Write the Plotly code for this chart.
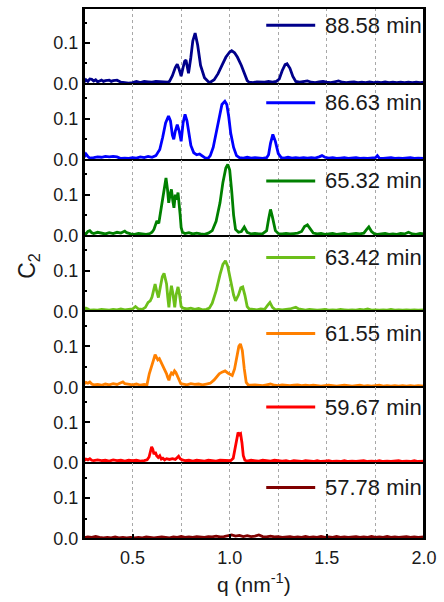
import plotly.graph_objects as go
from plotly.subplots import make_subplots

# Legend labels (acquisition time) and line colours, top panel first
labels = ["88.58 min", "86.63 min", "65.32 min", "63.42 min",
          "61.55 min", "59.67 min", "57.78 min"]
colors = ["#00008B", "#0000FF", "#008000", "#6CBF1A",
          "#FF8000", "#FF0000", "#800000"]

# C2(q) curves as (q [nm^-1], C2) pairs
c2_8858 = [(0.25,0.004),(0.26,0.010),(0.27,0.006),(0.28,0.012),(0.29,0.011),(0.30,0.007),(0.31,0.010),(0.32,0.005),
           (0.33,0.007),(0.34,0.009),(0.35,0.006),(0.36,0.008),(0.38,0.009),(0.39,0.006),(0.40,0.008),(0.42,0.009),
           (0.44,0.004),(0.46,0.003),(0.48,0.002),(0.50,0.003),(0.52,0.006),(0.54,0.003),(0.56,0.006),(0.58,0.005),
           (0.60,0.004),(0.62,0.006),(0.64,0.005),(0.66,0.004),(0.68,0.004),(0.69,0.006),(0.705,0.020),(0.72,0.040),
           (0.73,0.048),(0.74,0.035),(0.75,0.019),(0.76,0.040),(0.768,0.055),(0.775,0.058),(0.782,0.035),(0.788,0.026),
           (0.80,0.065),(0.81,0.105),(0.822,0.124),(0.835,0.095),(0.85,0.045),(0.87,0.015),(0.89,0.005),(0.90,0.004),
           (0.92,0.010),(0.94,0.025),(0.96,0.045),(0.98,0.065),(1.00,0.078),(1.01,0.081),(1.025,0.076),(1.04,0.065),
           (1.06,0.045),(1.075,0.025),(1.09,0.008),(1.10,0.004),(1.12,0.003),(1.14,0.005),(1.16,0.004),(1.18,0.004),
           (1.20,0.006),(1.22,0.004),(1.24,0.006),(1.255,0.012),(1.27,0.032),(1.285,0.047),(1.295,0.049),(1.31,0.038),
           (1.325,0.018),(1.34,0.006),(1.36,0.004),(1.38,0.005),(1.40,0.007),(1.42,0.004),(1.44,0.003),(1.46,0.005),
           (1.48,0.006),(1.50,0.004),(1.52,0.003),(1.54,0.005),(1.56,0.007),(1.58,0.004),(1.60,0.003),(1.62,0.004),
           (1.64,0.005),(1.66,0.003),(1.68,0.004),(1.70,0.003),(1.72,0.005),(1.74,0.003),(1.76,0.004),(1.78,0.003),
           (1.80,0.005),(1.82,0.003),(1.84,0.004),(1.86,0.003),(1.88,0.004),(1.90,0.003),(1.92,0.004),(1.94,0.003),
           (1.96,0.004),(1.98,0.003),(2.00,0.004)]

c2_8663 = [(0.25,0.006),(0.26,0.014),(0.27,0.008),(0.28,0.004),(0.30,0.005),(0.32,0.007),(0.34,0.006),(0.36,0.008),
           (0.38,0.007),(0.40,0.008),(0.42,0.007),(0.44,0.003),(0.46,0.004),(0.48,0.003),(0.50,0.005),(0.52,0.004),
           (0.54,0.007),(0.56,0.005),(0.58,0.008),(0.60,0.006),(0.62,0.010),(0.64,0.025),(0.655,0.055),(0.67,0.090),
           (0.685,0.107),(0.695,0.095),(0.705,0.060),(0.712,0.050),(0.72,0.070),(0.73,0.086),(0.74,0.070),(0.75,0.045),
           (0.76,0.090),(0.77,0.111),(0.78,0.095),(0.79,0.060),(0.80,0.035),(0.815,0.017),(0.83,0.012),(0.845,0.014),
           (0.86,0.008),(0.875,0.004),(0.89,0.004),(0.90,0.010),(0.915,0.030),(0.93,0.065),(0.945,0.105),(0.96,0.135),
           (0.975,0.143),(0.985,0.135),(0.995,0.105),(1.005,0.065),(1.02,0.030),(1.035,0.010),(1.05,0.005),(1.07,0.004),
           (1.09,0.006),(1.11,0.004),(1.13,0.005),(1.15,0.004),(1.17,0.003),(1.19,0.005),(1.20,0.012),(1.21,0.040),
           (1.222,0.062),(1.235,0.045),(1.25,0.015),(1.265,0.005),(1.28,0.004),(1.30,0.006),(1.32,0.004),(1.34,0.005),
           (1.36,0.004),(1.38,0.005),(1.40,0.004),(1.42,0.005),(1.44,0.004),(1.46,0.007),(1.475,0.010),(1.49,0.006),
           (1.51,0.004),(1.53,0.005),(1.55,0.003),(1.57,0.004),(1.59,0.005),(1.61,0.003),(1.63,0.004),(1.65,0.005),
           (1.67,0.003),(1.69,0.004),(1.71,0.003),(1.73,0.004),(1.75,0.005),(1.76,0.010),(1.77,0.004),(1.79,0.003),
           (1.81,0.004),(1.83,0.005),(1.85,0.003),(1.87,0.004),(1.89,0.003),(1.91,0.004),(1.93,0.005),(1.95,0.003),
           (1.97,0.004),(2.00,0.003)]

c2_6532 = [(0.25,0.006),(0.26,0.004),(0.27,0.010),(0.28,0.012),(0.29,0.007),(0.30,0.005),(0.32,0.008),(0.34,0.006),
           (0.36,0.004),(0.38,0.007),(0.40,0.005),(0.42,0.008),(0.44,0.006),(0.46,0.011),(0.47,0.007),(0.49,0.004),
           (0.51,0.003),(0.53,0.005),(0.55,0.004),(0.57,0.003),(0.59,0.005),(0.60,0.008),(0.61,0.015),(0.62,0.030),
           (0.625,0.036),(0.635,0.030),(0.645,0.060),(0.655,0.090),(0.665,0.125),(0.672,0.141),(0.68,0.112),(0.686,0.080),
           (0.693,0.100),(0.70,0.113),(0.707,0.085),(0.713,0.068),(0.72,0.100),(0.727,0.088),(0.734,0.105),(0.74,0.080),
           (0.745,0.050),(0.75,0.020),(0.757,0.008),(0.77,0.005),(0.79,0.007),(0.81,0.004),(0.83,0.006),(0.85,0.004),
           (0.87,0.003),(0.89,0.006),(0.91,0.012),(0.93,0.035),(0.95,0.080),(0.965,0.130),(0.98,0.165),(0.99,0.174),
           (1.00,0.160),(1.01,0.110),(1.02,0.050),(1.03,0.015),(1.045,0.008),(1.06,0.010),(1.075,0.021),(1.09,0.008),
           (1.11,0.004),(1.13,0.005),(1.15,0.004),(1.17,0.005),(1.19,0.012),(1.20,0.040),(1.21,0.064),(1.22,0.045),
           (1.235,0.012),(1.25,0.005),(1.27,0.004),(1.29,0.005),(1.31,0.004),(1.33,0.005),(1.35,0.006),(1.37,0.010),
           (1.385,0.022),(1.40,0.026),(1.415,0.015),(1.43,0.006),(1.45,0.004),(1.47,0.005),(1.49,0.003),(1.51,0.004),
           (1.53,0.005),(1.55,0.003),(1.57,0.004),(1.59,0.005),(1.61,0.003),(1.63,0.004),(1.65,0.005),(1.67,0.004),
           (1.69,0.006),(1.705,0.015),(1.716,0.021),(1.73,0.010),(1.745,0.004),(1.76,0.003),(1.78,0.004),(1.80,0.005),
           (1.82,0.003),(1.84,0.004),(1.86,0.003),(1.88,0.005),(1.90,0.004),(1.92,0.008),(1.94,0.004),(1.96,0.003),
           (1.98,0.005),(2.00,0.004)]

c2_6342 = [(0.25,0.004),(0.26,0.008),(0.27,0.006),(0.28,0.003),(0.30,0.004),(0.32,0.003),(0.34,0.005),(0.36,0.004),
           (0.38,0.003),(0.40,0.005),(0.42,0.004),(0.44,0.006),(0.46,0.004),(0.48,0.005),(0.50,0.006),(0.515,0.012),
           (0.53,0.006),(0.55,0.005),(0.566,0.010),(0.58,0.022),(0.591,0.026),(0.60,0.035),(0.608,0.055),(0.616,0.067),
           (0.624,0.050),(0.633,0.034),(0.643,0.060),(0.653,0.085),(0.662,0.093),(0.668,0.080),(0.675,0.067),(0.681,0.035),
           (0.687,0.010),(0.693,0.040),(0.70,0.063),(0.707,0.045),(0.712,0.030),(0.717,0.010),(0.724,0.040),(0.73,0.055),
           (0.734,0.060),(0.742,0.040),(0.75,0.012),(0.76,0.008),(0.78,0.006),(0.80,0.008),(0.82,0.005),(0.84,0.007),
           (0.86,0.004),(0.88,0.005),(0.895,0.008),(0.91,0.020),(0.93,0.050),(0.95,0.090),(0.965,0.115),(0.978,0.124),
           (0.99,0.110),(1.005,0.075),(1.02,0.040),(1.03,0.026),(1.045,0.040),(1.057,0.058),(1.067,0.060),(1.078,0.040),
           (1.09,0.012),(1.10,0.006),(1.12,0.005),(1.14,0.004),(1.16,0.006),(1.18,0.005),(1.195,0.015),(1.207,0.022),
           (1.22,0.010),(1.235,0.004),(1.25,0.005),(1.27,0.004),(1.29,0.005),(1.31,0.006),(1.33,0.009),(1.34,0.010),
           (1.355,0.006),(1.37,0.004),(1.39,0.003),(1.41,0.005),(1.43,0.004),(1.45,0.003),(1.47,0.004),(1.49,0.005),
           (1.51,0.003),(1.53,0.004),(1.55,0.003),(1.57,0.005),(1.59,0.004),(1.61,0.003),(1.63,0.004),(1.65,0.003),
           (1.67,0.005),(1.69,0.004),(1.71,0.006),(1.73,0.003),(1.75,0.004),(1.77,0.003),(1.79,0.004),(1.81,0.003),
           (1.83,0.005),(1.85,0.003),(1.87,0.004),(1.89,0.003),(1.91,0.004),(1.93,0.003),(1.95,0.004),(1.97,0.003),
           (2.00,0.004)]

c2_6155 = [(0.25,0.008),(0.26,0.012),(0.27,0.010),(0.28,0.013),(0.29,0.008),(0.30,0.006),(0.32,0.007),(0.34,0.005),
           (0.36,0.008),(0.38,0.006),(0.40,0.009),(0.42,0.007),(0.44,0.011),(0.45,0.013),(0.46,0.009),(0.48,0.008),
           (0.50,0.006),(0.52,0.008),(0.54,0.005),(0.56,0.007),(0.574,0.006),(0.586,0.033),(0.595,0.045),(0.603,0.058),
           (0.61,0.070),(0.616,0.080),(0.623,0.072),(0.63,0.067),(0.638,0.070),(0.647,0.061),(0.655,0.052),(0.663,0.045),
           (0.67,0.040),(0.675,0.033),(0.68,0.025),(0.687,0.017),(0.693,0.028),(0.70,0.035),(0.708,0.032),(0.716,0.040),
           (0.723,0.036),(0.73,0.029),(0.74,0.018),(0.748,0.009),(0.76,0.008),(0.78,0.006),(0.80,0.009),(0.82,0.007),
           (0.84,0.008),(0.86,0.006),(0.88,0.008),(0.90,0.010),(0.92,0.018),(0.935,0.028),(0.946,0.033),(0.96,0.037),
           (0.976,0.040),(0.99,0.035),(1.005,0.030),(1.013,0.029),(1.025,0.045),(1.037,0.080),(1.047,0.100),(1.055,0.106),
           (1.065,0.090),(1.075,0.045),(1.085,0.012),(1.095,0.006),(1.11,0.005),(1.13,0.006),(1.15,0.005),(1.17,0.004),
           (1.19,0.006),(1.21,0.008),(1.23,0.005),(1.25,0.004),(1.27,0.006),(1.29,0.005),(1.31,0.004),(1.33,0.005),
           (1.35,0.006),(1.37,0.004),(1.39,0.005),(1.41,0.004),(1.43,0.005),(1.45,0.004),(1.47,0.003),(1.49,0.004),
           (1.51,0.005),(1.53,0.004),(1.55,0.003),(1.57,0.004),(1.59,0.005),(1.61,0.004),(1.63,0.003),(1.65,0.004),
           (1.67,0.005),(1.69,0.003),(1.71,0.004),(1.73,0.003),(1.75,0.004),(1.77,0.005),(1.79,0.003),(1.81,0.004),
           (1.83,0.003),(1.85,0.004),(1.87,0.003),(1.89,0.004),(1.91,0.003),(1.93,0.004),(1.95,0.003),(1.97,0.004),
           (2.00,0.003)]

c2_5967 = [(0.25,0.006),(0.26,0.010),(0.27,0.008),(0.28,0.011),(0.29,0.007),(0.30,0.006),(0.32,0.008),(0.34,0.006),
           (0.36,0.007),(0.38,0.005),(0.40,0.008),(0.42,0.006),(0.44,0.007),(0.46,0.005),(0.48,0.007),(0.50,0.006),
           (0.52,0.007),(0.54,0.005),(0.56,0.006),(0.575,0.008),(0.585,0.015),(0.592,0.030),(0.598,0.040),(0.604,0.034),
           (0.61,0.022),(0.617,0.027),(0.624,0.018),(0.632,0.014),(0.64,0.018),(0.648,0.010),(0.656,0.012),(0.665,0.008),
           (0.675,0.011),(0.69,0.009),(0.705,0.011),(0.72,0.009),(0.73,0.013),(0.737,0.017),(0.745,0.011),(0.755,0.008),
           (0.77,0.006),(0.79,0.007),(0.81,0.005),(0.83,0.007),(0.85,0.006),(0.87,0.005),(0.89,0.007),(0.91,0.006),
           (0.93,0.005),(0.95,0.007),(0.97,0.006),(0.99,0.005),(1.005,0.006),(1.018,0.012),(1.028,0.040),(1.037,0.068),
           (1.043,0.075),(1.05,0.070),(1.056,0.072),(1.063,0.050),(1.07,0.018),(1.078,0.007),(1.09,0.005),(1.11,0.007),
           (1.13,0.006),(1.15,0.005),(1.17,0.007),(1.19,0.006),(1.21,0.005),(1.23,0.007),(1.25,0.006),(1.27,0.005),
           (1.29,0.006),(1.31,0.004),(1.33,0.006),(1.35,0.005),(1.37,0.004),(1.39,0.006),(1.41,0.005),(1.43,0.004),
           (1.45,0.006),(1.47,0.004),(1.49,0.005),(1.51,0.006),(1.53,0.004),(1.55,0.005),(1.57,0.004),(1.59,0.006),
           (1.61,0.004),(1.63,0.005),(1.65,0.004),(1.67,0.005),(1.69,0.006),(1.71,0.004),(1.73,0.005),(1.75,0.004),
           (1.77,0.006),(1.79,0.004),(1.81,0.005),(1.83,0.004),(1.85,0.005),(1.87,0.006),(1.89,0.004),(1.91,0.005),
           (1.93,0.004),(1.95,0.006),(1.97,0.004),(2.00,0.005)]

c2_5778 = [(0.25,0.003),(0.27,0.005),(0.29,0.004),(0.31,0.006),(0.33,0.004),(0.35,0.003),(0.37,0.004),(0.39,0.003),
           (0.41,0.005),(0.43,0.003),(0.45,0.004),(0.47,0.003),(0.49,0.004),(0.51,0.003),(0.53,0.004),(0.55,0.003),
           (0.57,0.005),(0.59,0.004),(0.61,0.003),(0.63,0.004),(0.65,0.005),(0.67,0.004),(0.69,0.003),(0.71,0.005),
           (0.73,0.004),(0.75,0.006),(0.77,0.004),(0.79,0.005),(0.81,0.004),(0.83,0.006),(0.85,0.005),(0.87,0.004),
           (0.89,0.006),(0.91,0.005),(0.93,0.007),(0.95,0.005),(0.97,0.006),(0.99,0.008),(1.01,0.010),(1.03,0.007),
           (1.05,0.009),(1.07,0.006),(1.09,0.008),(1.11,0.006),(1.13,0.007),(1.15,0.010),(1.17,0.006),(1.19,0.005),
           (1.21,0.007),(1.23,0.005),(1.25,0.006),(1.27,0.004),(1.29,0.005),(1.31,0.006),(1.33,0.004),(1.35,0.005),
           (1.37,0.004),(1.39,0.006),(1.41,0.004),(1.43,0.005),(1.45,0.004),(1.47,0.006),(1.49,0.004),(1.51,0.005),
           (1.53,0.004),(1.55,0.006),(1.57,0.004),(1.59,0.005),(1.61,0.004),(1.63,0.005),(1.65,0.006),(1.67,0.004),
           (1.69,0.005),(1.71,0.004),(1.73,0.006),(1.75,0.004),(1.77,0.005),(1.79,0.004),(1.81,0.006),(1.83,0.004),
           (1.85,0.005),(1.87,0.004),(1.89,0.005),(1.91,0.006),(1.93,0.004),(1.95,0.005),(1.97,0.004),(2.00,0.005)]

curves = [c2_8858, c2_8663, c2_6532, c2_6342, c2_6155, c2_5967, c2_5778]

# vertical placement of each panel's legend entry (fraction of panel height)
legend_y = [0.772, 0.75, 0.72, 0.71, 0.71, 0.74, 0.68]

FONT = "Liberation Sans, Arial, sans-serif"
TXT = "#1a1a1a"
n = len(curves)

fig = make_subplots(rows=n, cols=1, shared_xaxes=True, vertical_spacing=0)

for i, (pts, name, col) in enumerate(zip(curves, labels, colors)):
    q, c2 = zip(*pts)
    fig.add_trace(go.Scatter(x=list(q), y=list(c2), mode="lines", name=name,
                             line=dict(color=col, width=2.8), showlegend=False),
                  row=i + 1, col=1)
    ax = "" if i == 0 else str(i + 1)
    # legend line sample and label inside the panel
    fig.add_shape(type="line", xref=f"x{ax} domain", yref=f"y{ax} domain",
                  x0=0.536, x1=0.680, y0=legend_y[i], y1=legend_y[i],
                  line=dict(color=col, width=3))
    fig.add_annotation(xref=f"x{ax} domain", yref=f"y{ax} domain",
                       x=0.703, y=legend_y[i], text=name, showarrow=False,
                       xanchor="left", yanchor="middle",
                       font=dict(family=FONT, size=22, color=TXT))

fig.update_yaxes(range=[0, 0.1855], tick0=0, dtick=0.1, tickformat=".1f",
                 ticks="inside", ticklen=6, tickwidth=1.5, tickcolor="black",
                 minor=dict(tick0=0, dtick=0.05, ticks="inside", ticklen=3,
                            tickwidth=1.5, tickcolor="black"),
                 showgrid=False, zeroline=False,
                 showline=True, linecolor="black", linewidth=2, mirror=True,
                 ticklabelstandoff=0,
                 tickfont=dict(family=FONT, size=18, color=TXT))

fig.update_xaxes(range=[0.25, 2.0], tick0=0, dtick=0.5, tickformat=".1f",
                 showgrid=True, gridcolor="#a8a8a8", gridwidth=1, griddash="dot",
                 minor=dict(tick0=0, dtick=0.25, showgrid=True, gridcolor="#a8a8a8",
                            gridwidth=1, griddash="dot"),
                 zeroline=False, ticks="",
                 showline=True, linecolor="black", linewidth=1, mirror=True,
                 tickfont=dict(family=FONT, size=18, color=TXT))
fig.update_xaxes(ticks="inside", ticklen=5, tickwidth=1.5, tickcolor="black",
                 ticklabelstandoff=2, row=n, col=1)

# heavier outer frame around the stacked panels
fig.add_shape(type="rect", xref="paper", yref="paper", x0=0, x1=1, y0=0, y1=1,
              line=dict(color="black", width=2), fillcolor="rgba(0,0,0,0)")

# axis titles
fig.add_annotation(xref="paper", yref="paper", x=-0.164, y=0.515,
                   text="C<sub>2</sub>", textangle=-90, showarrow=False,
                   xanchor="center", yanchor="middle",
                   font=dict(family=FONT, size=23, color=TXT))
fig.add_annotation(xref="paper", yref="paper", x=0.5, y=-0.083,
                   text="q (nm<sup>-1</sup>)", showarrow=False,
                   xanchor="center", yanchor="middle",
                   font=dict(family=FONT, size=21, color=TXT))

fig.update_layout(width=444, height=602,
                  margin=dict(l=84, r=13, t=7, b=63),
                  paper_bgcolor="white", plot_bgcolor="white")

fig.write_html("out.html")
